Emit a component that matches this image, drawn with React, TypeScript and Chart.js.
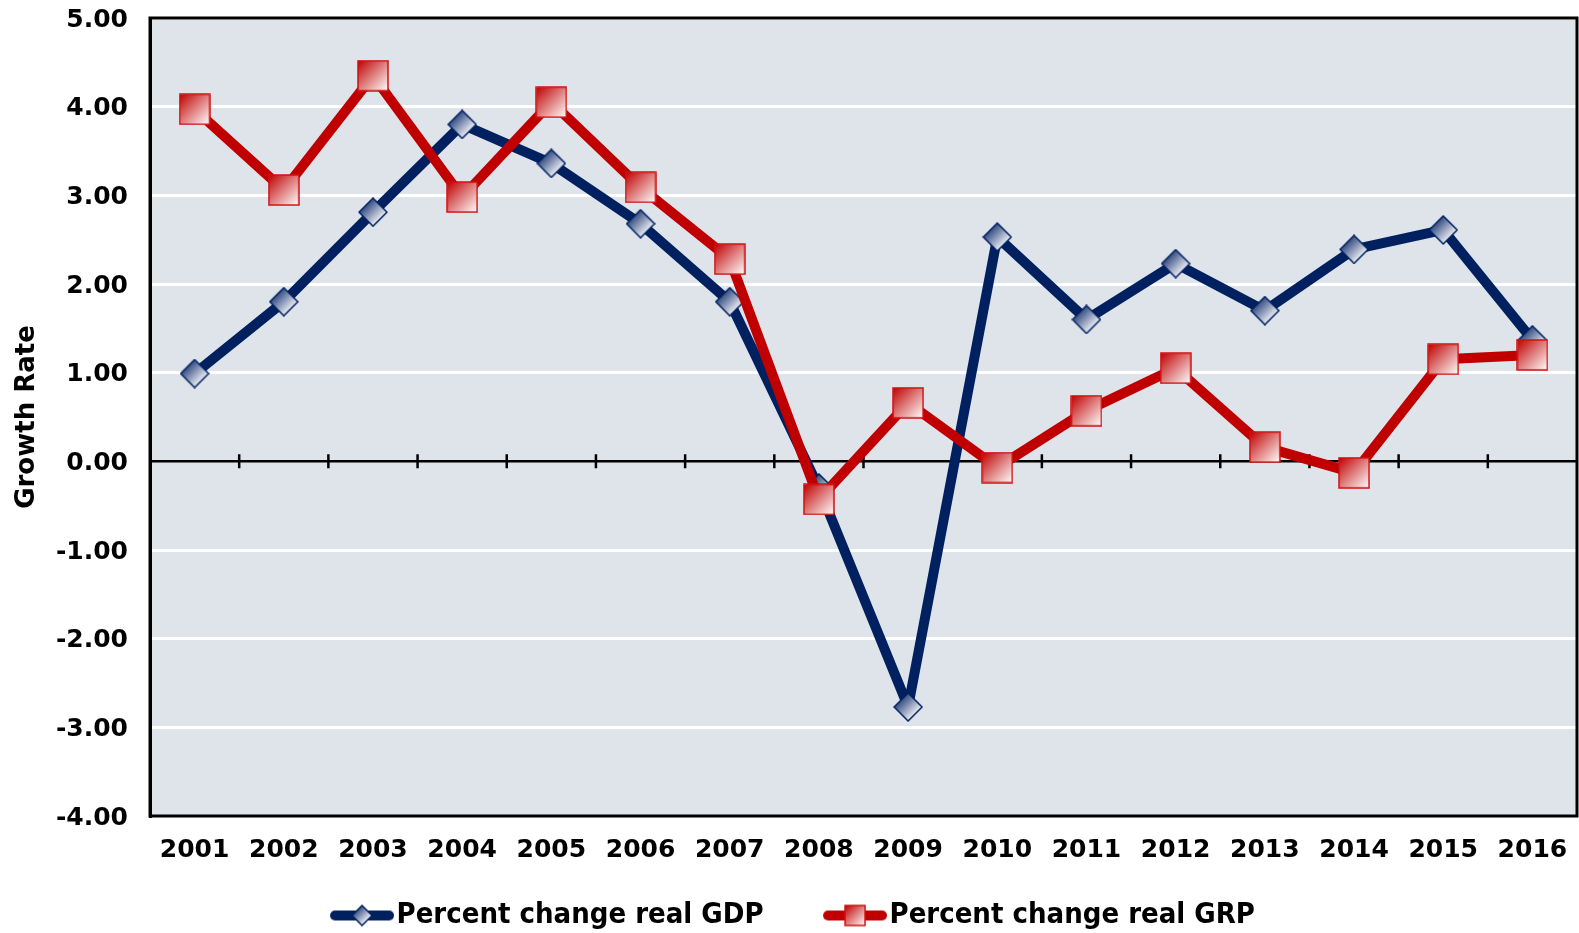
import React, { useEffect, useRef } from "react";
import { Chart, registerables } from "chart.js";

Chart.register(...registerables);

const years = ["2001", "2002", "2003", "2004", "2005", "2006", "2007", "2008", "2009", "2010", "2011", "2012", "2013", "2014", "2015", "2016"];
const gdpValues = [0.99, 1.8, 2.81, 3.8, 3.36, 2.68, 1.8, -0.3, -2.77, 2.53, 1.6, 2.23, 1.7, 2.39, 2.61, 1.37];
const grpValues = [3.97, 3.06, 4.35, 2.98, 4.05, 3.09, 2.28, -0.43, 0.66, -0.07, 0.57, 1.05, 0.16, -0.13, 1.15, 1.2];
const seriesLabels = ["Percent change real GDP", "Percent change real GRP"];
const yMin = -4;
const yMax = 5;
const yStep = 1;
const yTitle = "Growth Rate";

const NAVY = "#002060";
const RED = "#C00000";
const FONT = "'DejaVu Sans', sans-serif";
const LEGEND_FONT = "'DejaVu Sans Condensed', 'DejaVu Sans', sans-serif";
const LEGEND_BOX = 52;
const LEGEND_GAP = "      ";

function makeDiamond(size: number): HTMLCanvasElement {
  const c = document.createElement("canvas");
  c.width = size + 2;
  c.height = size + 2;
  const ctx = c.getContext("2d")!;
  const g = ctx.createLinearGradient(size * 0.25, size * 0.25, size * 0.85, size * 0.85);
  g.addColorStop(0, "#2a437c");
  g.addColorStop(1, "#ffffff");
  ctx.beginPath();
  ctx.moveTo(1 + size / 2, 1);
  ctx.lineTo(1 + size, 1 + size / 2);
  ctx.lineTo(1 + size / 2, 1 + size);
  ctx.lineTo(1, 1 + size / 2);
  ctx.closePath();
  ctx.fillStyle = g;
  ctx.fill();
  ctx.lineWidth = 1.5;
  ctx.strokeStyle = NAVY;
  ctx.stroke();
  return c;
}

function makeSquare(size: number): HTMLCanvasElement {
  const c = document.createElement("canvas");
  c.width = size + 2;
  c.height = size + 2;
  const ctx = c.getContext("2d")!;
  const g = ctx.createLinearGradient(1, 1, size + 1, size + 1);
  g.addColorStop(0, "#c00000");
  g.addColorStop(1, "#ffffff");
  ctx.fillStyle = g;
  ctx.fillRect(1, 1, size, size);
  ctx.lineWidth = 1.5;
  ctx.strokeStyle = "#d01010";
  ctx.strokeRect(1, 1, size, size);
  return c;
}

// Symbol image: line+marker occupying the rightmost 64px, right next to the text
function makeLegendSymbol(color: string, marker: HTMLCanvasElement): HTMLCanvasElement {
  const c = document.createElement("canvas");
  c.width = LEGEND_BOX + 24;
  c.height = 26;
  const ctx = c.getContext("2d")!;
  const x0 = c.width - 64;
  ctx.strokeStyle = color;
  ctx.lineWidth = 10;
  ctx.lineCap = "round";
  ctx.beginPath();
  ctx.moveTo(x0 + 5, 13);
  ctx.lineTo(x0 + 59, 13);
  ctx.stroke();
  ctx.drawImage(marker, x0 + 32 - marker.width / 2, 13 - marker.height / 2);
  return c;
}

const plotDecor = {
  id: "plotDecor",
  afterLayout(chart: any) {
    if (chart.legend) {
      chart.legend.left += 4;
      chart.legend.right += 4;
    }
  },
  beforeDraw(chart: any) {
    const { ctx, chartArea } = chart;
    ctx.save();
    ctx.fillStyle = "#dee4ea";
    ctx.fillRect(chartArea.left, chartArea.top, chartArea.right - chartArea.left, chartArea.bottom - chartArea.top);
    ctx.restore();
  },
  beforeDatasetsDraw(chart: any) {
    const { ctx, chartArea, scales } = chart;
    const x = scales.x;
    const y = scales.y;
    const y0 = y.getPixelForValue(0);
    ctx.save();
    ctx.strokeStyle = "#000";
    ctx.lineWidth = 2.5;
    ctx.beginPath();
    for (let i = 1; i < years.length; i++) {
      const px = (x.getPixelForValue(i - 1) + x.getPixelForValue(i)) / 2;
      ctx.moveTo(px, y0 - 7);
      ctx.lineTo(px, y0 + 7);
    }
    ctx.stroke();
    ctx.lineWidth = 3;
    ctx.strokeRect(chartArea.left, chartArea.top, chartArea.right - chartArea.left, chartArea.bottom - chartArea.top);
    ctx.restore();
  },
};

export default function App() {
  const ref = useRef<HTMLCanvasElement>(null);
  useEffect(() => {
    const diamond = makeDiamond(28);
    const square = makeSquare(30);
    const legendGdp = makeLegendSymbol(NAVY, makeDiamond(20));
    const legendGrp = makeLegendSymbol(RED, makeSquare(20));
    const chart = new Chart(ref.current!, {
      type: "line",
      data: {
        labels: years,
        datasets: [
          {
            label: seriesLabels[0],
            data: gdpValues,
            borderColor: NAVY,
            backgroundColor: NAVY,
            borderWidth: 10,
            borderJoinStyle: "round",
            pointStyle: diamond as any,
            pointRadius: 14,
            order: 2,
          },
          {
            label: seriesLabels[1],
            data: grpValues,
            borderColor: RED,
            backgroundColor: RED,
            borderWidth: 10,
            borderJoinStyle: "round",
            pointStyle: square as any,
            pointRadius: 15,
            order: 1,
          },
        ],
      },
      options: {
        responsive: false,
        animation: false,
        layout: { autoPadding: false, padding: { top: 18, right: 2, left: 0, bottom: -7 } },
        plugins: {
          tooltip: { enabled: false },
          legend: {
            position: "bottom",
            labels: {
              usePointStyle: true,
              pointStyleWidth: LEGEND_BOX,
              padding: 5,
              color: "#000",
              font: { family: LEGEND_FONT, size: 29, weight: "bold" },
              sort: (a: any, b: any) => a.datasetIndex - b.datasetIndex,
              generateLabels: () => [
                { text: seriesLabels[0] + LEGEND_GAP, datasetIndex: 0, pointStyle: legendGdp as any, fillStyle: NAVY, strokeStyle: NAVY, lineWidth: 0, hidden: false, fontColor: "#000" },
                { text: seriesLabels[1], datasetIndex: 1, pointStyle: legendGrp as any, fillStyle: RED, strokeStyle: RED, lineWidth: 0, hidden: false, fontColor: "#000" },
              ],
            },
          },
        },
        scales: {
          x: {
            type: "category",
            offset: true,
            grid: { display: false },
            border: { display: false },
            afterFit: (scale: any) => {
              scale.height = 80;
              scale.paddingLeft = 0;
              scale.paddingRight = 0;
            },
            ticks: {
              color: "#000",
              padding: 11,
              maxRotation: 0,
              autoSkip: false,
              font: { family: FONT, size: 25, weight: "bold" },
            },
          },
          y: {
            min: yMin,
            max: yMax,
            afterFit: (scale: any) => {
              scale.width = 150;
              scale.paddingTop = 0;
              scale.paddingBottom = 0;
            },
            ticks: {
              stepSize: yStep,
              color: "#000",
              padding: 22,
              labelOffset: 2,
              font: { family: FONT, size: 25, weight: "bold" },
              callback: (v: any) => Number(v).toFixed(2),
            },
            grid: {
              drawTicks: false,
              color: (c: any) => (c.tick && c.tick.value === 0 ? "#000" : "#ffffff"),
              lineWidth: (c: any) => (c.tick && c.tick.value === 0 ? 2.5 : 3),
            },
            border: { display: true, color: "#000", width: 3 },
            title: {
              display: true,
              text: yTitle,
              color: "#000",
              padding: { top: 12, bottom: 0 },
              font: { family: FONT, size: 26, weight: "bold" },
            },
          },
        },
      },
      plugins: [plotDecor],
    });
    return () => chart.destroy();
  }, []);
  return (
    <div style={{ position: "absolute", left: 0, top: 0, width: 1579, height: 933, background: "#fff" }}>
      <canvas ref={ref} width={1579} height={933} />
    </div>
  );
}
